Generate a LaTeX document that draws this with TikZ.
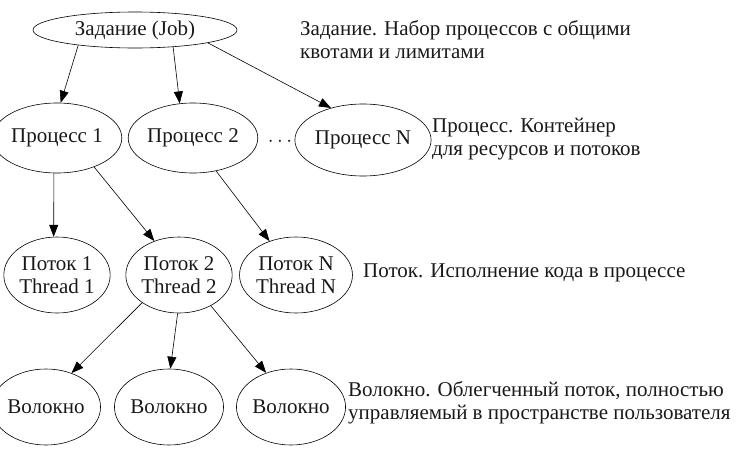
\documentclass[tikz,border=0pt]{standalone}
\usepackage{fontspec}
\setmainfont{Liberation Serif}
\usetikzlibrary{shapes.geometric,arrows.meta}
\begin{document}
\begin{tikzpicture}[x=1pt,y=-1pt,
  every node/.style={font=\fontsize{21}{23}\selectfont, text=black!90},
  ell/.style={draw, ellipse, inner sep=0pt, align=center, line width=0.6pt},
  note/.style={anchor=west, align=left, inner sep=0pt},
  arr/.style={draw, line width=0.6pt, -{Triangle[length=12pt,width=9pt]}}]
\useasboundingbox (0,0) rectangle (741,463);
\node[ell, minimum width=204pt, minimum height=36pt] (job) at (135,30) {Задание (Job)};
\node[ell, minimum width=110pt, minimum height=70pt] (p1) at (57,138) {Процесс 1};
\node[ell, minimum width=104pt, minimum height=70pt] (p2) at (193,138) {Процесс 2};
\node[ell, minimum width=106pt, minimum height=72pt] (pN) at (363,140) {Процесс N};
\node[font=\fontsize{22}{22}\selectfont] (dots) at (280,142) {$\cdots$};
\node[ell, minimum width=104pt, minimum height=76pt] (t1) at (57,275) {Поток 1\\Thread 1};
\node[ell, minimum width=102pt, minimum height=76pt] (t2) at (179,275) {Поток 2\\Thread 2};
\node[ell, minimum width=108pt, minimum height=76pt] (tN) at (296,275) {Поток N\\Thread N};
\node[ell, minimum width=88pt, minimum height=76pt] (f1) at (46,407) {Волокно};
\node[ell, minimum width=88pt, minimum height=76pt] (f2) at (169,407) {Волокно};
\node[ell, minimum width=84pt, minimum height=76pt] (f3) at (291,407) {Волокно};
\node[note] (n1) at (300,40) {Задание. Набор процессов с общими\\квотами и лимитами};
\node[note] (n2) at (432,139) {Процесс. Контейнер\\для ресурсов и потоков};
\node[note] (n3) at (363,273) {Поток. Исполнение кода в процессе};
\node[note] (n4) at (348,403) {Волокно. Облегченный поток, полностью\\управляемый в пространстве пользователя};
\draw[arr] (job.195) -- (p1.84);
\draw[arr] (job.336) -- (p2.111);
\draw[arr] (job.350) -- (pN.135);
\draw[arr] (p1.265) -- (t1.95);
\draw[arr] (p1.322) -- (t2.126);
\draw[arr] (p2.305) -- (tN.128);
\draw[arr] (t2.217) -- (f1.53);
\draw[arr] (t2.268) -- (f2.88);
\draw[arr] (t2.316) -- (f3.126);
\end{tikzpicture}
\end{document}
